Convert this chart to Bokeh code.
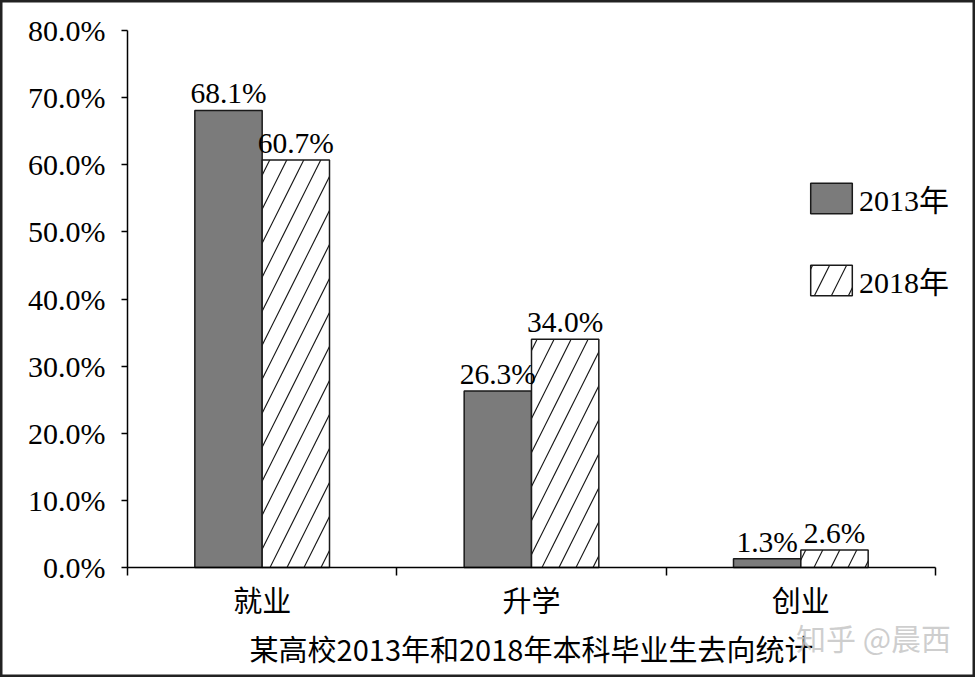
from bokeh.plotting import figure
from bokeh.models import (Range1d, FixedTicker, PrintfTickFormatter, ColumnDataSource,
                          LabelSet, Label, Legend, LegendItem)
from bokeh.core.properties import value
from bokeh.embed import file_html
from bokeh.resources import INLINE

# ---- data ----
categories = ["就业", "升学", "创业"]
series = ["2013年", "2018年"]
values_2013 = [68.1, 26.3, 1.3]
values_2018 = [60.7, 34.0, 2.6]
y_ticks = [0, 10, 20, 30, 40, 50, 60, 70, 80]
title_text = "某高校2013年和2018年本科毕业生去向统计"
watermark_text = "知乎 @晨西"

# ---- layout constants (pixels) ----
W, H = 975, 677
PX_LEFT, PX_RIGHT, PX_TOP, PX_BOTTOM = 127, 935, 30, 567

SERIF = "'Liberation Serif', 'Noto Sans CJK SC'"
CJK = "'Noto Sans CJK SC'"

n = len(categories)
centers = [i + 0.5 for i in range(n)]
bw = 0.25
y_min, y_max = y_ticks[0], y_ticks[-1]

ux = (PX_RIGHT - PX_LEFT) / n
uy = (PX_BOTTOM - PX_TOP) / (y_max - y_min)
x_range = Range1d(-PX_LEFT / ux, n + (W - PX_RIGHT) / ux)
y_range = Range1d(y_min - (H - PX_BOTTOM) / uy, y_max + PX_TOP / uy)

p = figure(width=W, height=H, output_backend="svg", toolbar_location=None, title=None,
           x_range=x_range, y_range=y_range,
           min_border=0, min_border_left=0, min_border_right=0,
           min_border_top=0, min_border_bottom=0)
p.xgrid.visible = False
p.ygrid.visible = False
p.background_fill_color = "white"
p.border_fill_color = "white"
p.outline_line_color = "#222222"
p.outline_line_width = 4

# x axis: labels at category centres, ticks at category boundaries
xa = p.xaxis[0]
xa.fixed_location = 0
xa.bounds = (0, n)
xa.ticker = FixedTicker(ticks=centers, minor_ticks=list(range(n + 1)))
xa.major_label_overrides = {c: name for c, name in zip(centers, categories)}
xa.major_tick_out = 0
xa.major_tick_in = 0
xa.minor_tick_out = 8
xa.minor_tick_in = 0
xa.minor_tick_line_color = "black"
xa.minor_tick_line_width = 1.5
xa.axis_line_color = "black"
xa.axis_line_width = 1.5
xa.major_label_text_font = CJK
xa.major_label_text_font_size = "29px"
xa.major_label_text_color = "black"
xa.major_label_standoff = 2

ya = p.yaxis[0]
ya.fixed_location = 0
ya.bounds = (y_min, y_max)
ya.ticker = FixedTicker(ticks=y_ticks, minor_ticks=[])
ya.formatter = PrintfTickFormatter(format="%.1f%%")
ya.major_tick_out = 6
ya.major_tick_in = 0
ya.major_tick_line_color = "black"
ya.major_tick_line_width = 1.5
ya.axis_line_color = "black"
ya.axis_line_width = 1.5
ya.major_label_text_font = "Liberation Serif"
ya.major_label_text_font_size = "30px"
ya.major_label_text_color = "black"
ya.major_label_standoff = 16

src13 = ColumnDataSource(dict(x=[c - bw / 2 for c in centers], top=values_2013,
                              label=[f"{v:.1f}%" for v in values_2013]))
src18 = ColumnDataSource(dict(x=[c + bw / 2 for c in centers], top=values_2018,
                              label=[f"{v:.1f}%" for v in values_2018]))

r13 = p.vbar(x="x", top="top", bottom=0, width=bw, source=src13,
             fill_color="#7b7b7b", line_color="#1a1a1a", line_width=1.5)
r18 = p.vbar(x="x", top="top", bottom=0, width=bw, source=src18,
             fill_color="white", line_color="#1a1a1a", line_width=1.5,
             hatch_pattern="/", hatch_color="#1a1a1a", hatch_scale=34, hatch_weight=1.2)

for src in (src13, src18):
    p.add_layout(LabelSet(x="x", y="top", text="label", source=src,
                          text_align="center", text_baseline="alphabetic", y_offset=7,
                          text_font=value("Liberation Serif"), text_font_size=value("29.5px"),
                          text_color="black"))

legend = Legend(items=[LegendItem(label=series[0], renderers=[r13]),
                       LegendItem(label=series[1], renderers=[r18])],
                location=(805, 375), orientation="vertical",
                glyph_width=52, glyph_height=38, label_height=38, spacing=38,
                padding=0, margin=0, border_line_color=None, background_fill_alpha=0,
                label_standoff=2, label_text_font=SERIF, label_text_font_size="30px",
                label_text_color="black")
p.add_layout(legend)

p.add_layout(Label(x=531, y=30, x_units="screen", y_units="screen", text=title_text,
                   text_align="center", text_baseline="middle", text_font=CJK,
                   text_font_size="29px", text_color="black"))
p.add_layout(Label(x=873, y=41, x_units="screen", y_units="screen", text=watermark_text,
                   text_align="center", text_baseline="middle", text_font=CJK,
                   text_font_size="30px", text_color="#c6c6c6", text_alpha=0.85))

open("out.html", "w").write(file_html(p, INLINE))
